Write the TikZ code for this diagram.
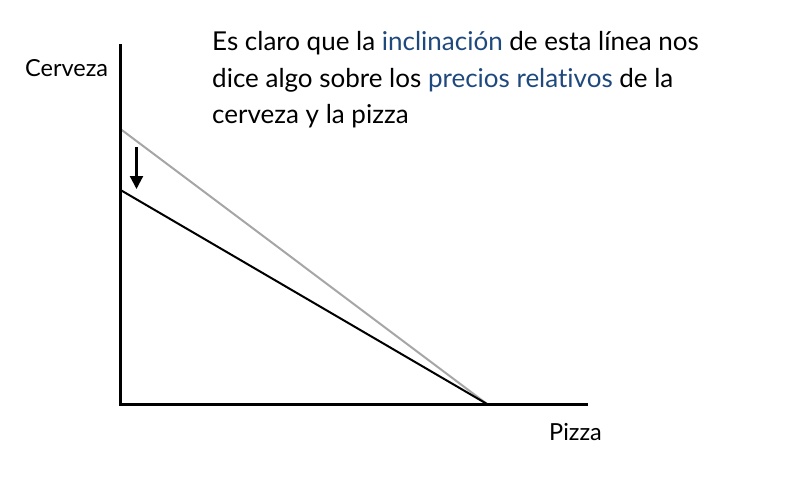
\documentclass[tikz,border=0pt]{standalone}
\usepackage{fontspec}
\setmainfont{Lato}[Ligatures={NoCommon,TeX}]
\usetikzlibrary{arrows.meta}
\definecolor{hl}{RGB}{31,73,125}
\definecolor{oldline}{RGB}{166,166,166}
\begin{document}
\begin{tikzpicture}[x=1pt,y=-1pt,
  axis/.style={line width=3pt},
  budget/.style={line width=2pt},
  lbl/.style={inner sep=0pt,anchor=base west,font=\fontsize{23.5}{28}\selectfont},
  bodytxt/.style={inner sep=0pt,anchor=base west,font=\fontsize{26}{30}\selectfont}]
\useasboundingbox (0,0) rectangle (803,479);
\coordinate (origin) at (120.5,404);
\coordinate (ytop) at (120.5,44);
\coordinate (xend) at (588,404);
\coordinate (oldtop) at (120.5,129);
\coordinate (newtop) at (120.5,190);
\coordinate (xint) at (487,404);
\coordinate (arrA) at (136.5,147);
\coordinate (arrB) at (136.5,189);
\draw[budget,oldline] (oldtop) -- (xint);
\draw[budget] (newtop) -- (xint);
\draw[axis] (ytop) -- (origin) -- (xend);
\draw[line width=2.2pt,-{Triangle[length=13pt,width=13pt]}] (arrA) -- (arrB);
\node[lbl] (cerveza) at (25,76) {Cerveza};
\node[lbl] (pizza) at (549,440) {Pizza};
\node[bodytxt] (l1) at (212,50) {Es claro que la \textcolor{hl}{inclinación} de esta línea nos};
\node[bodytxt] (l2) at (212,87) {dice algo sobre los \textcolor{hl}{precios relativos} de la};
\node[bodytxt] (l3) at (212,123) {cerveza y la pizza};
\end{tikzpicture}
\end{document}
